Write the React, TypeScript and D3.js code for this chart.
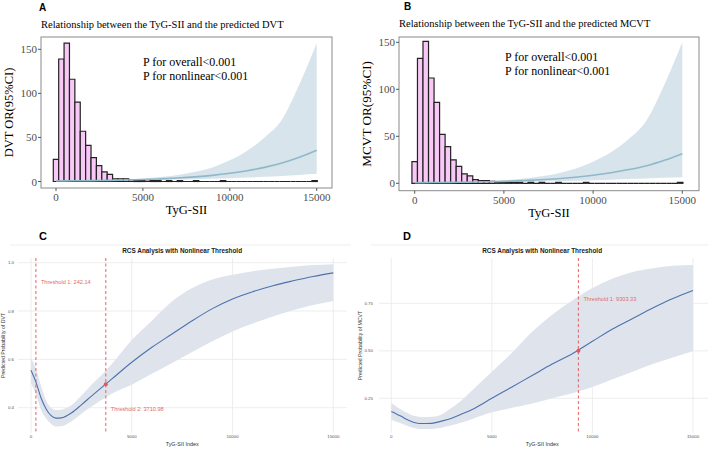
import React from 'react';
import * as d3 from 'd3';

// histogram counts (bins of width 310 centred on 0, 310, 620, ...)
const binWidth = 310;
const histDVT = [25, 139, 157, 116, 90, 57, 41, 27, 18, 11, 8, 3, 3, 3, 2, 1, 1, 2, 1, 1, 0, 1, 0, 1, 0, 0, 1, 0, 0, 0, 0, 1, 0, 0, 0, 0, 0, 0, 0, 0, 0, 0, 0, 0, 0, 0, 0, 0, 1];
const histMCVT = [23, 133, 151, 112, 86, 52, 39, 25, 18, 10, 8, 4, 3, 3, 2, 1, 1, 1, 1, 1, 0, 1, 0, 1, 0, 0, 1, 0, 0, 0, 0, 1, 0, 0, 0, 0, 0, 0, 0, 0, 0, 0, 0, 0, 0, 0, 0, 0, 1];

// RCS odds ratios (top row)
const orX = [0, 1000, 2000, 3000, 4000, 5000, 6000, 7000, 8000, 9000, 10000, 11000, 12000, 13000, 14000, 15000];
const orDVT = [0.6, 0.8, 1.0, 1.3, 1.7, 2.2, 3.0, 4.0, 5.3, 7.0, 9.3, 12.2, 16, 21, 27.5, 35.5];
const upDVT = [1.0, 1.1, 1.3, 1.8, 2.4, 3.5, 5.0, 7.5, 11, 16, 24, 35, 50, 70, 110, 157];
const loDVT = [0.3, 0.6, 0.8, 0.95, 1.2, 1.4, 1.8, 2.2, 2.6, 3.1, 3.7, 4.4, 5.3, 6.3, 7.4, 8.7];
const orMCVT = [0.6, 0.8, 1.0, 1.25, 1.6, 2.1, 2.8, 3.7, 4.9, 6.5, 8.6, 11.3, 14.6, 18.7, 24.5, 31.5];
const upMCVT = [1.0, 1.1, 1.3, 1.7, 2.3, 3.3, 4.8, 7.2, 10.5, 15.5, 23, 33, 47, 67, 105, 150];
const loMCVT = [0.3, 0.6, 0.8, 0.95, 1.15, 1.35, 1.7, 2.0, 2.4, 2.8, 3.3, 3.9, 4.5, 5.2, 5.8, 6.4];
const orTicksY = [0, 50, 100, 150];
const orTicksX = [0, 5000, 10000, 15000];

// predicted probabilities (bottom row)
const rcsX = [0, 250, 500, 750, 1000, 1250, 1500, 2000, 2500, 3000, 3500, 4000, 5000, 6000, 7000, 8000, 9000, 10000, 11000, 12000, 13000, 14000, 15000];
const probDVT = [0.555, 0.505, 0.44, 0.395, 0.367, 0.357, 0.358, 0.378, 0.412, 0.448, 0.483, 0.518, 0.588, 0.65, 0.705, 0.76, 0.81, 0.85, 0.88, 0.905, 0.925, 0.943, 0.958];
const upProbDVT = [0.605, 0.56, 0.49, 0.43, 0.40, 0.39, 0.392, 0.41, 0.45, 0.495, 0.535, 0.58, 0.68, 0.76, 0.84, 0.895, 0.93, 0.95, 0.965, 0.975, 0.983, 0.99, 0.994];
const loProbDVT = [0.50, 0.455, 0.39, 0.355, 0.333, 0.322, 0.323, 0.343, 0.375, 0.405, 0.432, 0.458, 0.495, 0.54, 0.585, 0.63, 0.675, 0.715, 0.748, 0.777, 0.803, 0.825, 0.842];
const probMCVT = [0.18, 0.168, 0.155, 0.14, 0.128, 0.12, 0.117, 0.118, 0.13, 0.145, 0.167, 0.19, 0.25, 0.31, 0.37, 0.43, 0.485, 0.55, 0.615, 0.67, 0.725, 0.775, 0.817];
const upProbMCVT = [0.225, 0.207, 0.19, 0.175, 0.162, 0.155, 0.152, 0.153, 0.165, 0.2, 0.24, 0.29, 0.39, 0.49, 0.6, 0.69, 0.765, 0.83, 0.88, 0.915, 0.935, 0.947, 0.952];
const loProbMCVT = [0.137, 0.127, 0.118, 0.107, 0.097, 0.091, 0.088, 0.089, 0.095, 0.108, 0.122, 0.14, 0.176, 0.2, 0.222, 0.25, 0.277, 0.31, 0.35, 0.39, 0.43, 0.465, 0.497];

const thresholdsDVT = [242.14, 3710.98];
const thresholdLabelYDVT = [0.92, 0.395];
const thresholdsMCVT = [9303.33];
const thresholdLabelYMCVT = [0.772];
const pointDVT = { x: 3710.98, y: 0.497 };
const pointMCVT = { x: 9303.33, y: 0.5 };
const ticksDVT = [0.4, 0.6, 0.8, 1.0];
const ticksMCVT = [0.25, 0.5, 0.75];

const serif = '"Liberation Serif", "Times New Roman", serif';
const sans = '"Liberation Sans", Arial, sans-serif';

function OrPanel(props: any) {
  const { box, xr, yr, hist, fit, up, lo, title, yTitle, tag, tagX, titleY, yTitleX, yTitleSize, pX, pY } = props;
  const x = d3.scaleLinear().domain([0, 15000]).range(xr);
  const y = d3.scaleLinear().domain([0, 150]).range(yr);
  const area = d3.area<number>().x((d, i) => x(orX[i])).y0((d, i) => y(lo[i])).y1(d => y(d)).curve(d3.curveMonotoneX);
  const line = d3.line<number>().x((d, i) => x(orX[i])).y(d => y(d)).curve(d3.curveMonotoneX);
  const [bx0, by0, bx1, by1] = box;
  return (
    <g>
      <text x={tagX} y={titleY - 17} fontFamily={sans} fontWeight="bold" fontSize={10}>{tag}</text>
      <text x={bx0} y={titleY} fontFamily={serif} fontSize={10.5}>{title}</text>
      <path d={area(up) || ''} fill="#c9dbe5" fillOpacity={0.75} />
      {hist.map((c: number, i: number) => {
        const a = x(i * binWidth - binWidth / 2), b = x((i + 1) * binWidth - binWidth / 2);
        const y0 = y(0), y1 = y(c);
        return <path key={i} d={`M${a},${y0}V${y1}H${b}V${y0}Z`} fill="#f8c8f6" stroke="#222" strokeWidth={1.2} />;
      })}
      <path d={line(fit) || ''} fill="none" stroke="#8fb8c9" strokeWidth={1.6} />
      <rect x={bx0} y={by0} width={bx1 - bx0} height={by1 - by0} fill="none" stroke="#8a8a8a" strokeWidth={1} />
      {orTicksY.map(t => (
        <g key={t}>
          <line x1={bx0 - 3} x2={bx0} y1={y(t)} y2={y(t)} stroke="#555" />
          <text x={bx0 - 4} y={y(t) + 4} textAnchor="end" fontFamily={serif} fontSize={11} fill="#4d4d4d">{t}</text>
        </g>
      ))}
      {orTicksX.map(t => (
        <g key={t}>
          <line x1={x(t)} x2={x(t)} y1={by1} y2={by1 + 3} stroke="#555" />
          <text x={x(t)} y={by1 + 13} textAnchor="middle" fontFamily={serif} fontSize={11} fill="#4d4d4d">{t}</text>
        </g>
      ))}
      <text x={(bx0 + bx1) / 2} y={by1 + 26} textAnchor="middle" fontFamily={serif} fontSize={12.5}>TyG-SII</text>
      <text transform={`translate(${yTitleX},${(by0 + by1) / 2}) rotate(-90)`} textAnchor="middle"
        fontFamily={serif} fontSize={yTitleSize}>{yTitle}</text>
      <text x={pX} y={pY} fontFamily={serif} fontSize={12}>P for overall&lt;0.001</text>
      <text x={pX} y={pY + 14} fontFamily={serif} fontSize={12}>P for nonlinear&lt;0.001</text>
    </g>
  );
}

function RcsPanel(props: any) {
  const { xr, yDom, yRng, panelX, fit, up, lo, thresholds, labelYs, point, ticks, tickFmt, yTitle, tag, tagX, yTitleX, tickLabelX } = props;
  const x = d3.scaleLinear().domain([0, 15000]).range(xr);
  const y = d3.scaleLinear().domain(yDom).range(yRng);
  const top = 258, bottom = 433;
  const area = d3.area<number>().x((d, i) => x(rcsX[i])).y0((d, i) => y(lo[i])).y1(d => y(d)).curve(d3.curveMonotoneX);
  const line = d3.line<number>().x((d, i) => x(rcsX[i])).y(d => y(d)).curve(d3.curveMonotoneX);
  return (
    <g>
      <line x1={panelX[0] - 8} x2={panelX[1] + 4} y1={245} y2={245} stroke="#eeeeee" />
      <text x={tagX} y={240} fontFamily={sans} fontWeight="bold" fontSize={11}>{tag}</text>
      <text x={(xr[0] + xr[1]) / 2} y={252.5} textAnchor="middle" fontFamily={sans} fontWeight="bold" fontSize={6.4} fill="#222">
        RCS Analysis with Nonlinear Threshold</text>
      {ticks.map((t: number) => (
        <line key={t} x1={panelX[0]} x2={panelX[1]} y1={y(t)} y2={y(t)} stroke="#e8e8e8" strokeWidth={0.8} />
      ))}
      {orTicksX.map(t => (
        <line key={t} x1={x(t)} x2={x(t)} y1={top} y2={bottom} stroke="#e8e8e8" strokeWidth={0.8} />
      ))}
      <path d={area(up) || ''} fill="#dfe4ec" />
      <path d={line(fit) || ''} fill="none" stroke="#4b72ad" strokeWidth={1.1} />
      {thresholds.map((t: number, i: number) => (
        <g key={t}>
          <line x1={x(t)} x2={x(t)} y1={top} y2={bottom} stroke="#e0595c" strokeOpacity={0.85} strokeWidth={1.1} strokeDasharray="3,2.5" />
          <text x={x(t) + 5} y={y(labelYs[i]) + 2} fontFamily={sans} fontSize={5.6} fill="#e06a6a">
            {`Threshold ${i + 1}: ${t.toFixed(2)}`}</text>
        </g>
      ))}
      <circle cx={x(point.x)} cy={y(point.y)} r={2} fill="#e0595c" />
      {ticks.map((t: number) => (
        <text key={t} x={tickLabelX} y={y(t) + 1.5} textAnchor="end" fontFamily={sans} fontSize={4.4} fill="#555">{tickFmt(t)}</text>
      ))}
      {orTicksX.map(t => (
        <text key={t} x={x(t)} y={438} textAnchor="middle" fontFamily={sans} fontSize={4.4} fill="#555">{t}</text>
      ))}
      <text x={(xr[0] + xr[1]) / 2} y={446} textAnchor="middle" fontFamily={sans} fontSize={5.4} fill="#333">TyG-SII Index</text>
      <text transform={`translate(${yTitleX},${(top + bottom) / 2}) rotate(-90)`} textAnchor="middle"
        fontFamily={sans} fontSize={5.2} fill="#333">{yTitle}</text>
    </g>
  );
}

export default function App() {
  return (
    <svg width={708} height={449} style={{ position: 'absolute', left: 0, top: 0, background: '#fff' }}>
      <OrPanel box={[41, 37, 332, 188]} xr={[56, 316.7]} yr={[181.5, 49.3]} hist={histDVT}
        fit={orDVT} up={upDVT} lo={loDVT} tag="A" tagX={39} titleY={28}
        title="Relationship between the TyG-SII and the predicted DVT" yTitle="DVT OR(95%CI)"
        yTitleX={13} yTitleSize={12.5} pX={143} pY={66} />
      <OrPanel box={[399, 37, 699, 190.7]} xr={[414.7, 682.3]} yr={[183.3, 42.3]} hist={histMCVT}
        fit={orMCVT} up={upMCVT} lo={loMCVT} tag="B" tagX={404} titleY={27}
        title="Relationship between the TyG-SII and the predicted MCVT" yTitle="MCVT OR(95%CI)"
        yTitleX={371} yTitleSize={13.2} pX={505} pY={61} />
      <RcsPanel xr={[31, 333.3]} yDom={[0.4, 1.0]} yRng={[407.7, 262.7]} panelX={[18, 347]}
        fit={probDVT} up={upProbDVT} lo={loProbDVT} thresholds={thresholdsDVT} labelYs={thresholdLabelYDVT}
        point={pointDVT} ticks={ticksDVT} tickFmt={d3.format('.1f')} yTitle="Predicted Probability of DVT"
        tag="C" tagX={39} yTitleX={5} tickLabelX={14} />
      <RcsPanel xr={[391.3, 693]} yDom={[0.25, 0.75]} yRng={[398.3, 303.3]} panelX={[379, 708]}
        fit={probMCVT} up={upProbMCVT} lo={loProbMCVT} thresholds={thresholdsMCVT} labelYs={thresholdLabelYMCVT}
        point={pointMCVT} ticks={ticksMCVT} tickFmt={d3.format('.2f')} yTitle="Predicted Probability of MCVT"
        tag="D" tagX={403} yTitleX={362} tickLabelX={373} />
    </svg>
  );
}
